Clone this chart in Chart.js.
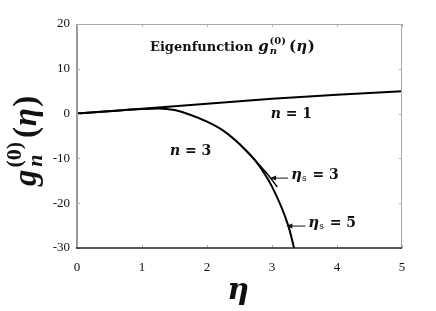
<!DOCTYPE html>
<html>
<head>
<meta charset="utf-8">
<script src="https://cdn.jsdelivr.net/npm/chart.js@4/dist/chart.umd.min.js"></script>
<style>
  html, body { margin: 0; padding: 0; background: #fff; }
  #wrap { width: 436px; height: 311px; }
</style>
</head>
<body>
<div id="wrap"><canvas id="c" width="436" height="311"></canvas></div>
<script>
// ---- data ----
const xTicks = [0, 1, 2, 3, 4, 5];
const yTicks = [-30, -20, -10, 0, 10, 20];

const etaN1 = [0, 1, 2, 3, 4, 5];
const gN1   = [0, 1.1, 2.2, 3.3, 4.2, 5.0];

const etaS5 = [0, 0.5, 1.0, 1.25, 1.5, 1.75, 2.0, 2.25, 2.5, 2.75, 3.0, 3.25, 3.34];
const gS5   = [0, 0.52, 1.0, 1.15, 0.8, -0.3, -1.8, -3.8, -6.8, -10.6, -16.3, -25.0, -30.0];

const etaS3 = [2.5, 2.75, 2.9, 3.0, 3.08];
const gS3   = [-6.8, -10.6, -13.0, -14.8, -16.4];

const titleText = "Eigenfunction";

const toXY = (xs, ys) => xs.map((x, i) => ({ x: x, y: ys[i] }));

const SERIF = '"Liberation Serif", "Times New Roman", serif';
const MATH = '"DejaVu Serif", serif';

function drawMathG(ctx, x, y, size, fam, gap) {
  // draws g_n^(0)(η) starting at x, baseline y; returns end x
  ctx.font = 'italic bold ' + size + 'px ' + fam;
  ctx.fillText('g', x, y);
  x += ctx.measureText('g').width + size * 0.06;
  const small = Math.round(size * 0.68);
  ctx.font = 'bold ' + small + 'px ' + fam;
  ctx.fillText('(0)', x, y - size * 0.45);
  const wSup = ctx.measureText('(0)').width;
  ctx.font = 'italic bold ' + small + 'px ' + fam;
  ctx.fillText('n', x + size * 0.02, y + size * 0.18);
  x += wSup + size * gap;
  ctx.font = 'bold ' + size + 'px ' + fam;
  ctx.fillText('(', x, y);
  x += ctx.measureText('(').width + size * 0.02;
  ctx.font = 'italic bold ' + size + 'px ' + fam;
  ctx.fillText('η', x, y);
  x += ctx.measureText('η').width + size * 0.04;
  ctx.font = 'bold ' + size + 'px ' + fam;
  ctx.fillText(')', x, y);
  x += ctx.measureText(')').width;
  return x;
}

const decor = {
  id: 'decor',
  afterDatasetsDraw(chart) {
    const ctx = chart.ctx;
    const a = chart.chartArea;
    const xs = chart.scales.x, ys = chart.scales.y;
    ctx.save();
    // frame
    ctx.lineCap = 'butt';
    ctx.strokeStyle = '#a8a8a8'; ctx.lineWidth = 1;
    ctx.beginPath(); ctx.moveTo(a.left, a.top + 0.5); ctx.lineTo(a.right, a.top + 0.5); ctx.stroke();
    ctx.beginPath(); ctx.moveTo(a.right - 0.5, a.top); ctx.lineTo(a.right - 0.5, a.bottom); ctx.stroke();
    ctx.strokeStyle = '#9a9a9a'; ctx.lineWidth = 2;
    ctx.beginPath(); ctx.moveTo(a.left, a.top); ctx.lineTo(a.left, a.bottom); ctx.stroke();
    // inward ticks
    ctx.strokeStyle = '#b0b0b0'; ctx.lineWidth = 1;
    xTicks.forEach(v => {
      const px = Math.round(xs.getPixelForValue(v)) + 0.5;
      ctx.beginPath(); ctx.moveTo(px, a.top); ctx.lineTo(px, a.top + 3); ctx.stroke();
      ctx.beginPath(); ctx.moveTo(px, a.bottom); ctx.lineTo(px, a.bottom - 3); ctx.stroke();
    });
    yTicks.forEach(v => {
      const py = Math.round(ys.getPixelForValue(v)) + 0.5;
      ctx.beginPath(); ctx.moveTo(a.left, py); ctx.lineTo(a.left + 3, py); ctx.stroke();
      ctx.beginPath(); ctx.moveTo(a.right, py); ctx.lineTo(a.right - 3, py); ctx.stroke();
    });
    ctx.strokeStyle = '#222'; ctx.lineWidth = 1.5;
    ctx.beginPath(); ctx.moveTo(a.left - 1, a.bottom); ctx.lineTo(a.right, a.bottom); ctx.stroke();

    ctx.fillStyle = '#111';
    ctx.textBaseline = 'alphabetic';
    ctx.textAlign = 'left';
    // title inside plot
    ctx.font = 'bold 13px ' + MATH;
    let tx = 150, ty = 51;
    ctx.fillText(titleText, tx, ty);
    tx += ctx.measureText(titleText).width + 5;
    drawMathG(ctx, tx, ty, 15, MATH, 0.2);

    // n = 1 and n = 3
    function nLabel(t, px, py) {
      ctx.font = 'italic bold 14px ' + MATH;
      ctx.fillText('n', px, py);
      let w = ctx.measureText('n').width;
      ctx.font = 'bold 14px ' + MATH;
      ctx.fillText(' = ' + t, px + w, py);
    }
    nLabel('1', xs.getPixelForValue(2.98), ys.getPixelForValue(-1.0));
    nLabel('3', xs.getPixelForValue(1.43), ys.getPixelForValue(-9.3));

    // eta_s labels with arrows
    function etaLabel(t, tipEta, tipG, len) {
      const x0 = xs.getPixelForValue(tipEta), y0 = ys.getPixelForValue(tipG);
      ctx.strokeStyle = '#111'; ctx.lineWidth = 1;
      ctx.beginPath(); ctx.moveTo(x0 + 4, y0); ctx.lineTo(x0 + len, y0); ctx.stroke();
      ctx.beginPath(); ctx.moveTo(x0, y0); ctx.lineTo(x0 + 6, y0 - 2.5); ctx.lineTo(x0 + 6, y0 + 2.5); ctx.closePath(); ctx.fill();
      let px = x0 + len + 3, py = y0 + 1;
      ctx.font = 'italic bold 15px ' + MATH;
      ctx.fillText('η', px, py);
      px += ctx.measureText('η').width;
      ctx.font = '9px ' + MATH;
      ctx.fillText('s', px, py + 2);
      px += ctx.measureText('s').width + 1;
      ctx.font = 'bold 14px ' + MATH;
      ctx.fillText(' = ' + t, px, py);
    }
    etaLabel('3', 2.97, -14.4, 18);
    etaLabel('5', 3.22, -25.1, 19);

    // y axis title (rotated)
    ctx.save();
    ctx.translate(36, 186);
    ctx.rotate(-Math.PI / 2);
    drawMathG(ctx, 0, 0, 33, SERIF, 0.12);
    ctx.restore();

    // x axis title
    ctx.font = 'italic bold 30px ' + MATH;
    ctx.textAlign = 'center';
    ctx.fillText('η', xs.getPixelForValue(2.48), 299);
    ctx.restore();
  }
};

new Chart(document.getElementById('c'), {
  type: 'line',
  data: {
    datasets: [
      { data: toXY(etaN1, gN1), borderColor: '#000', borderWidth: 2, pointRadius: 0, tension: 0 },
      { data: toXY(etaS5, gS5), borderColor: '#000', borderWidth: 2, pointRadius: 0, cubicInterpolationMode: 'monotone' },
      { data: toXY(etaS3, gS3), borderColor: '#000', borderWidth: 1.5, pointRadius: 0, cubicInterpolationMode: 'monotone' }
    ]
  },
  options: {
    responsive: false,
    animation: false,
    devicePixelRatio: 1,
    layout: { padding: { left: 0, right: 34, top: 24, bottom: 0 } },
    plugins: { legend: { display: false }, tooltip: { enabled: false } },
    scales: {
      x: {
        type: 'linear', min: 0, max: 5,
        afterFit(s) { s.height = 63; },
        afterBuildTicks(s) { s.ticks = xTicks.map(v => ({ value: v })); },
        grid: { display: false, drawTicks: false },
        border: { display: false },
        ticks: { color: '#111', padding: 12, font: { family: SERIF, size: 13 }, maxRotation: 0, callback: v => String(v) }
      },
      y: {
        type: 'linear', min: -30, max: 20,
        afterFit(s) { s.width = 77; },
        afterBuildTicks(s) { s.ticks = yTicks.map(v => ({ value: v })); },
        grid: { display: false, drawTicks: false },
        border: { display: false },
        ticks: { color: '#111', padding: 7, font: { family: SERIF, size: 13 }, callback: v => String(v) }
      }
    }
  },
  plugins: [decor]
});
</script>
</body>
</html>
